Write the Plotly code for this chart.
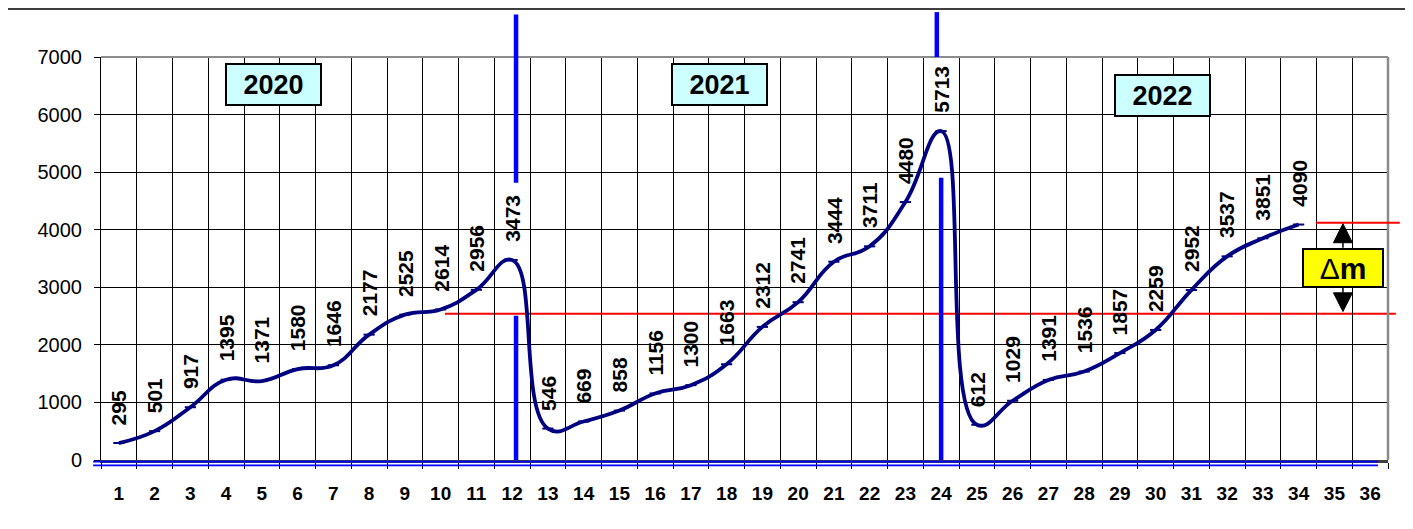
import plotly.graph_objects as go

# ---------------- data ----------------
periods = [str(i) for i in range(1, 37)]
values = [295, 501, 917, 1395, 1371, 1580, 1646, 2177, 2525, 2614, 2956, 3473,
          546, 669, 858, 1156, 1300, 1663, 2312, 2741, 3444, 3711, 4480, 5713,
          612, 1029, 1391, 1536, 1857, 2259, 2952, 3537, 3851, 4090]
y_ticks = [0, 1000, 2000, 3000, 4000, 5000, 6000, 7000]
years = ["2020", "2021", "2022"]
year_box_x = [4.33, 16.81, 29.18]      # category-index positions
year_box_y = [6530, 6530, 6340]
level_low = 2540
level_high = 4120
delta_label = "Δ<b>m</b>"

FONT = "Arial, 'Liberation Sans', sans-serif"
NAVY = "#000080"
N = len(periods)
YMAX = 7000
PAGE = 8  # default body margin of the html page


def xp(idx):
    """category index -> paper x"""
    return (idx + 0.5) / N


def yp(v):
    """value -> paper y"""
    return v / YMAX


fig = go.Figure()
fig.add_trace(go.Scatter(
    x=list(range(len(values))), y=values, mode="lines+markers",
    line=dict(color=NAVY, width=3.8, shape="spline", smoothing=1.3),
    marker=dict(symbol="line-ew", size=8, line=dict(color=NAVY, width=2)),
    showlegend=False, hoverinfo="y",
))

annotations = []
for i, v in enumerate(values):
    annotations.append(dict(
        x=i, y=v, xref="x", yref="y", text=f"<b>{v}</b>", showarrow=False,
        textangle=-90, xanchor="center", yanchor="bottom", yshift=16,
        font=dict(family=FONT, size=21, color="black"),
    ))

for yr, bx, by in zip(years, year_box_x, year_box_y):
    annotations.append(dict(
        x=bx, y=by, xref="x", yref="y", text=f"<b>{yr}</b>", showarrow=False,
        bgcolor="#CCFFFF", bordercolor="black", borderwidth=2, borderpad=1,
        width=91, height=37, xanchor="center", yanchor="middle",
        font=dict(family=FONT, size=27, color="black"),
    ))

# Delta m box
dm_x = 34.24
annotations.append(dict(
    x=xp(dm_x), y=yp(3339), xref="paper", yref="paper", text=delta_label,
    showarrow=False, bgcolor="#FFFF00", bordercolor="black", borderwidth=2,
    borderpad=1, width=76, height=34, xanchor="center", yanchor="middle",
    font=dict(family=FONT, size=30, color="black"),
))

shapes = []
# outer chart border
shapes.append(dict(type="rect", xref="paper", yref="paper",
                   x0=-0.0746, x1=1.2, y0=-0.5, y1=1.119,
                   line=dict(color="black", width=1.5), layer="below"))
# right / top frame (gray)
shapes.append(dict(type="line", xref="paper", yref="paper", x0=1, x1=1, y0=0, y1=1,
                   line=dict(color="#8c8c8c", width=2.5), layer="above"))
shapes.append(dict(type="line", xref="paper", yref="paper", x0=0, x1=1, y0=1, y1=1,
                   line=dict(color="#8c8c8c", width=2), layer="above"))
# blue double line beneath the axis
for yb in (-28, -94):
    shapes.append(dict(type="line", xref="paper", yref="paper",
                       x0=xp(-0.72), x1=xp(35.22), y0=yp(yb), y1=yp(yb),
                       line=dict(color="#0000FF", width=1.6), layer="above"))
# blue year separators
sep_segments = [(11.11, 4817, 7739), (11.11, 0, 2504),
                (22.88, 7000, 7780), (23.0, 0, 4904)]
for sx, sy0, sy1 in sep_segments:
    shapes.append(dict(type="line", xref="paper", yref="paper",
                       x0=xp(sx), x1=xp(sx), y0=yp(sy0), y1=yp(sy1),
                       line=dict(color="#0000FF", width=4.5), layer="above"))
# red reference levels
shapes.append(dict(type="line", xref="paper", yref="paper",
                   x0=xp(9.12), x1=xp(35.72), y0=yp(level_low), y1=yp(level_low),
                   line=dict(color="#FF0000", width=2), layer="between"))
shapes.append(dict(type="line", xref="paper", yref="paper",
                   x0=xp(33.49), x1=xp(35.83), y0=yp(level_high), y1=yp(level_high),
                   line=dict(color="#FF0000", width=2), layer="above"))
# arrows of delta m
hw = 0.266
up_tip, up_base, box_top = 4104, 3774, 3687
dn_base, dn_tip, box_bot = 2904, 2579, 2991


def tri(x, ytip, ybase):
    return (f"M {xp(x)} {yp(ytip)} L {xp(x - hw)} {yp(ybase)} "
            f"L {xp(x + hw)} {yp(ybase)} Z")


shapes.append(dict(type="path", xref="paper", yref="paper", path=tri(dm_x, up_tip, up_base),
                   fillcolor="black", line=dict(color="black", width=1), layer="above"))
shapes.append(dict(type="path", xref="paper", yref="paper", path=tri(dm_x, dn_tip, dn_base),
                   fillcolor="black", line=dict(color="black", width=1), layer="above"))
shapes.append(dict(type="line", xref="paper", yref="paper", x0=xp(dm_x), x1=xp(dm_x),
                   y0=yp(up_base), y1=yp(box_top), line=dict(color="black", width=1.5)))
shapes.append(dict(type="line", xref="paper", yref="paper", x0=xp(dm_x), x1=xp(dm_x),
                   y0=yp(box_bot), y1=yp(dn_base), line=dict(color="black", width=1.5)))

fig.update_layout(
    width=1413, height=529,
    margin=dict(l=101 - PAGE, r=25 + PAGE, t=57 - PAGE, b=69 + PAGE),
    paper_bgcolor="white", plot_bgcolor="white",
    font=dict(family=FONT, color="black"),
    annotations=annotations, shapes=shapes,
    xaxis=dict(
        type="linear", range=[-0.5, N - 0.5],
        tickmode="array", tickvals=list(range(N)), ticktext=periods,
        showgrid=False, ticks="",
        minor=dict(tickmode="linear", tick0=-0.5, dtick=1, showgrid=True,
                   gridcolor="#000000", gridwidth=1, ticks="outside", ticklen=6,
                   tickcolor="#000000"),
        showline=True, linecolor="#404040", linewidth=2.5,
        tickfont=dict(family=FONT, size=19, color="black", weight="bold"),
        ticklabelstandoff=14, zeroline=False, fixedrange=True,
    ),
    yaxis=dict(
        range=[0, YMAX], tickvals=y_ticks, ticktext=[str(t) for t in y_ticks],
        showgrid=True, gridcolor="#000000", gridwidth=1,
        ticks="outside", ticklen=6, tickcolor="black",
        showline=True, linecolor="#000000", linewidth=1,
        tickfont=dict(family=FONT, size=20, color="black"),
        ticklabelstandoff=8, zeroline=False, fixedrange=True,
    ),
)

fig.write_html("out.html")
